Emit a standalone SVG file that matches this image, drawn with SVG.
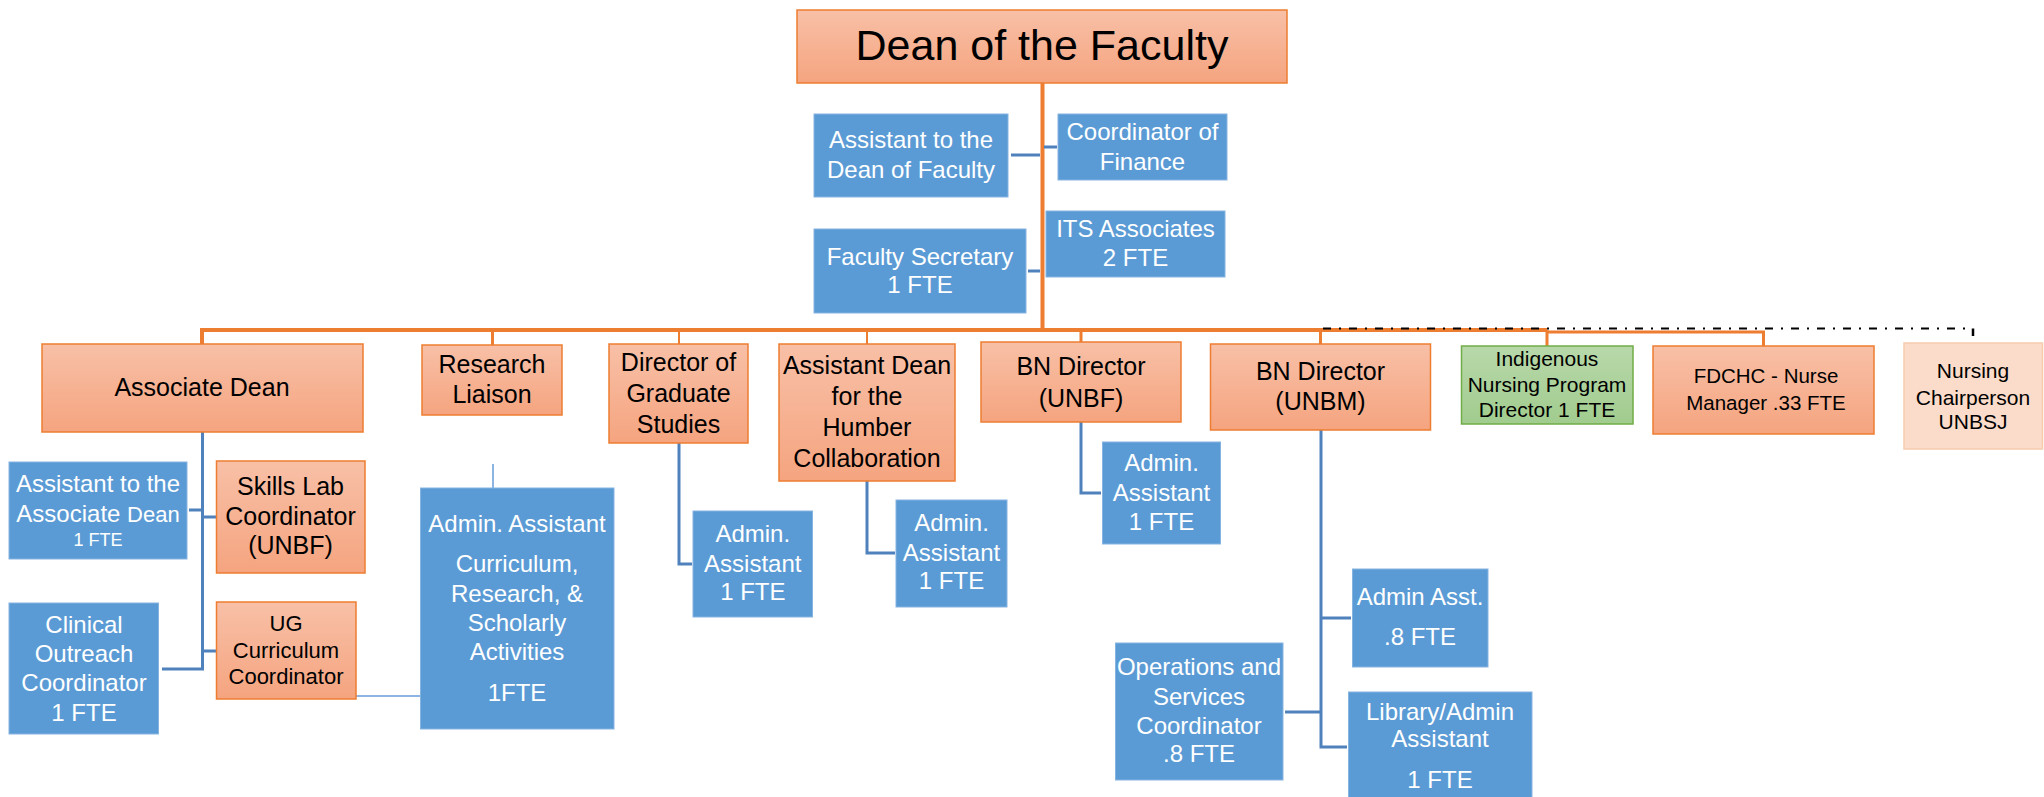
<svg xmlns="http://www.w3.org/2000/svg" width="2044" height="797" viewBox="0 0 2044 797">
<defs>
<linearGradient id="gOr" x1="0" y1="0" x2="0" y2="1"><stop offset="0" stop-color="#f8c0a7"/><stop offset="1" stop-color="#f5a47f"/></linearGradient>
<linearGradient id="gGr" x1="0" y1="0" x2="0" y2="1"><stop offset="0" stop-color="#b8d8aa"/><stop offset="1" stop-color="#a1cc8e"/></linearGradient>
</defs>
<style>
.o{fill:url(#gOr);stroke:#ed7d31;stroke-width:1.5}
.b{fill:#5b9bd5;stroke:#86b4e1;stroke-width:1}
.g{fill:url(#gGr);stroke:#70ad47;stroke-width:1.5}
.p{fill:#fbdcca;stroke:#f8cbad;stroke-width:1.5}
text{font-family:"Liberation Sans",Arial,sans-serif;text-anchor:middle}
.k{fill:#000;font-size:25px}
.w{fill:#fff;font-size:24px}
.s{fill:#000;font-size:21px}
.lo{stroke:#ed7d31;fill:none}
.lb{stroke:#4f81bd;fill:none;stroke-width:3}
.ll{stroke:#8db4e2;fill:none;stroke-width:2}
</style>
<g id="connectors">
<path class="lo" stroke-width="4" d="M1042.5,83 V331"/>
<path class="lo" stroke-width="4" d="M202,344 V330 H1547"/>
<path class="lo" stroke-width="3" d="M1547,332 H1763.5 V346"/>
<path class="lo" stroke-width="3" d="M1547,330 V346"/>
<path class="lo" stroke-width="3" d="M492.5,330 V345"/>
<path class="lo" stroke-width="2" d="M679,330 V344"/>
<path class="lo" stroke-width="2" d="M867,330 V344"/>
<path class="lo" stroke-width="3" d="M1081,330 V342"/>
<path class="lo" stroke-width="3" d="M1320.5,330 V344"/>
<path stroke="#000" fill="none" stroke-width="2" stroke-dasharray="8 8 2 8" d="M1323,328.5 H1973"/>
<path stroke="#000" fill="none" stroke-width="2.5" d="M1973,328.5 V336"/>
<path class="lb" d="M1011,155 H1040"/>
<path class="lb" d="M1044,147 H1057"/>
<path class="lb" d="M1028,271 H1040"/>
<path class="lb" d="M202.5,432 V669 H162"/>
<path class="lb" d="M189,510 H202.5"/>
<path class="lb" d="M202.5,517 H216"/>
<path class="lb" d="M202.5,651 H216"/>
<path class="lb" d="M679,443 V564 H692"/>
<path class="lb" d="M867,481 V553 H895"/>
<path class="lb" d="M1081,422 V493 H1101"/>
<path class="lb" d="M1321,430 V747 H1347"/>
<path class="lb" d="M1321,618 H1351"/>
<path class="lb" d="M1285,712 H1321"/>
<path class="ll" d="M493,464 V488"/>
<path class="ll" d="M356,696 H420"/>
</g>
<g id="dean"><rect class="o" x="797" y="10" width="490" height="73"/><text class="k" x="1042" y="60" style="font-size:43px">Dean of the Faculty</text></g>
<g id="asst-dean-faculty"><rect class="b" x="814" y="114" width="194" height="83"/><text class="w" x="911" y="148">Assistant to the</text><text class="w" x="911" y="178">Dean of Faculty</text></g>
<g id="coord-finance"><rect class="b" x="1058" y="114" width="169" height="66"/><text class="w" x="1142.5" y="140">Coordinator of</text><text class="w" x="1142.5" y="170">Finance</text></g>
<g id="faculty-secretary"><rect class="b" x="814" y="229" width="212" height="84"/><text class="w" x="920" y="265">Faculty Secretary</text><text class="w" x="920" y="293">1 FTE</text></g>
<g id="its-associates"><rect class="b" x="1046" y="211" width="179" height="66"/><text class="w" x="1135.5" y="237">ITS Associates</text><text class="w" x="1135.5" y="266">2 FTE</text></g>
<g id="associate-dean"><rect class="o" x="42" y="344" width="321" height="88"/><text class="k" x="202" y="396">Associate Dean</text></g>
<g id="research-liaison"><rect class="o" x="422" y="345" width="140" height="70"/><text class="k" x="492" y="373">Research</text><text class="k" x="492" y="403">Liaison</text></g>
<g id="director-graduate"><rect class="o" x="609" y="344" width="139" height="99"/><text class="k" x="678.5" y="371">Director of</text><text class="k" x="678.5" y="402">Graduate</text><text class="k" x="678.5" y="433">Studies</text></g>
<g id="asst-dean-humber"><rect class="o" x="779" y="344" width="176" height="137"/><text class="k" x="867" y="374">Assistant Dean</text><text class="k" x="867" y="405">for the</text><text class="k" x="867" y="436">Humber</text><text class="k" x="867" y="467">Collaboration</text></g>
<g id="bn-director-unbf"><rect class="o" x="981" y="342" width="200" height="80"/><text class="k" x="1081" y="375">BN Director</text><text class="k" x="1081" y="407">(UNBF)</text></g>
<g id="bn-director-unbm"><rect class="o" x="1210.5" y="344" width="220" height="86"/><text class="k" x="1320.5" y="380">BN Director</text><text class="k" x="1320.5" y="410">(UNBM)</text></g>
<g id="indigenous"><rect class="g" x="1461.5" y="346" width="171.5" height="78"/><text class="s" x="1547" y="366">Indigenous</text><text class="s" x="1547" y="392">Nursing Program</text><text class="s" x="1547" y="417">Director 1 FTE</text></g>
<g id="fdchc"><rect class="o" x="1653" y="346" width="221" height="88"/><text class="s" x="1766" y="383" style="font-size:20.5px">FDCHC - Nurse</text><text class="s" x="1766" y="410" style="font-size:20.5px">Manager .33 FTE</text></g>
<g id="nursing-chair"><rect class="p" x="1904" y="343" width="138.5" height="106"/><text class="s" x="1973" y="378">Nursing</text><text class="s" x="1973" y="405">Chairperson</text><text class="s" x="1973" y="429">UNBSJ</text></g>
<g id="asst-assoc-dean"><rect class="b" x="9" y="462" width="178" height="97"/><text class="w" x="98" y="492">Assistant to the</text><text class="w" x="98" y="522">Associate <tspan style="font-size:22px">Dean</tspan></text><text class="w" x="98" y="546" style="font-size:18px">1 FTE</text></g>
<g id="skills-lab"><rect class="o" x="216.5" y="461" width="148.5" height="112"/><text class="k" x="290.5" y="495">Skills Lab</text><text class="k" x="290.5" y="525">Coordinator</text><text class="k" x="290.5" y="554">(UNBF)</text></g>
<g id="ug-curriculum"><rect class="o" x="216.5" y="602" width="139.5" height="97"/><text class="k" x="286" y="631" style="font-size:22px">UG</text><text class="k" x="286" y="658" style="font-size:22px">Curriculum</text><text class="k" x="286" y="684" style="font-size:22px">Coordinator</text></g>
<g id="clinical-outreach"><rect class="b" x="9" y="603" width="149.5" height="131"/><text class="w" x="84" y="633">Clinical</text><text class="w" x="84" y="662">Outreach</text><text class="w" x="84" y="691">Coordinator</text><text class="w" x="84" y="721">1 FTE</text></g>
<g id="admin-curriculum"><rect class="b" x="420.5" y="488" width="193.5" height="241"/><text class="w" x="517" y="532">Admin. Assistant</text><text class="w" x="517" y="572">Curriculum,</text><text class="w" x="517" y="602">Research, &amp;</text><text class="w" x="517" y="631">Scholarly</text><text class="w" x="517" y="660">Activities</text><text class="w" x="517" y="701">1FTE</text></g>
<g id="admin-director"><rect class="b" x="693" y="511" width="119.5" height="106"/><text class="w" x="752.8" y="542">Admin.</text><text class="w" x="752.8" y="572">Assistant</text><text class="w" x="752.8" y="600">1 FTE</text></g>
<g id="admin-humber"><rect class="b" x="896" y="500" width="111" height="107"/><text class="w" x="951.5" y="531">Admin.</text><text class="w" x="951.5" y="561">Assistant</text><text class="w" x="951.5" y="589">1 FTE</text></g>
<g id="admin-unbf"><rect class="b" x="1102.5" y="442" width="118" height="102"/><text class="w" x="1161.5" y="471">Admin.</text><text class="w" x="1161.5" y="501">Assistant</text><text class="w" x="1161.5" y="530">1 FTE</text></g>
<g id="admin-asst-unbm"><rect class="b" x="1352.5" y="569" width="135.5" height="98"/><text class="w" x="1420" y="605">Admin Asst.</text><text class="w" x="1420" y="645">.8 FTE</text></g>
<g id="operations"><rect class="b" x="1115.5" y="643" width="167.5" height="137"/><text class="w" x="1199" y="675">Operations and</text><text class="w" x="1199" y="705">Services</text><text class="w" x="1199" y="734">Coordinator</text><text class="w" x="1199" y="762">.8 FTE</text></g>
<g id="library-admin"><rect class="b" x="1348.5" y="692" width="183.5" height="112"/><text class="w" x="1440" y="720">Library/Admin</text><text class="w" x="1440" y="747">Assistant</text><text class="w" x="1440" y="788">1 FTE</text></g>
</svg>
